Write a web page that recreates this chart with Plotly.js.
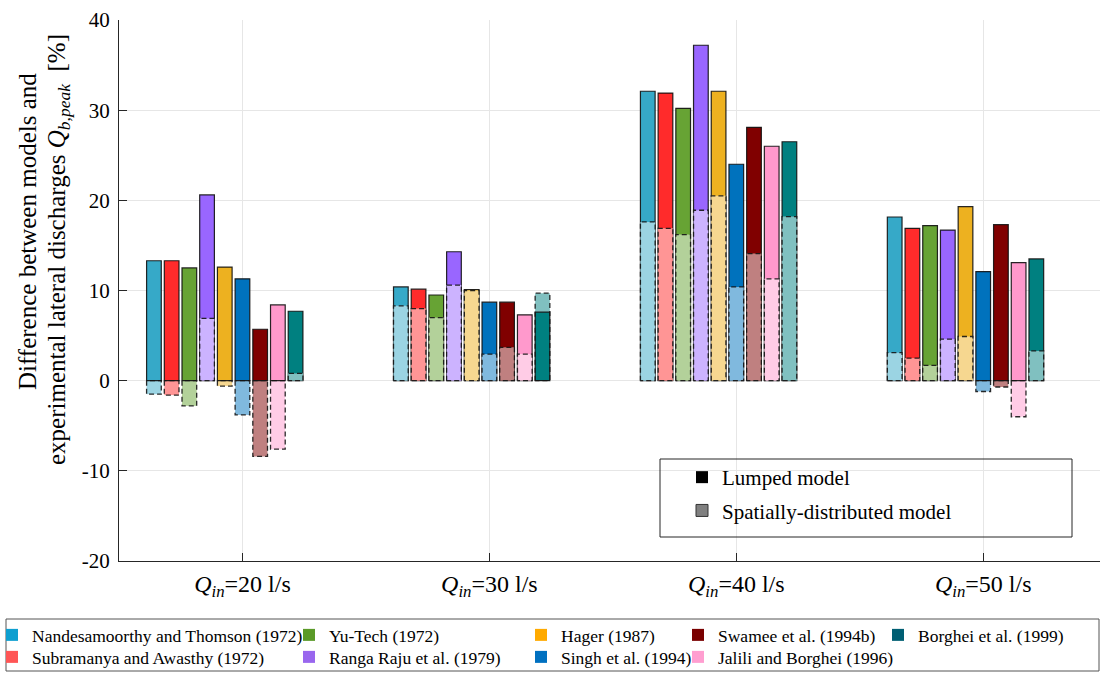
<!DOCTYPE html>
<html><head><meta charset="utf-8">
<script src="https://cdn.plot.ly/plotly-3.0.1.min.js"></script>
<style>html,body{margin:0;padding:0;background:#fff}#chart{width:1100px;height:673px}</style>
</head><body><div id="chart"></div>
<script>
const groupLabels = [
  '<i>Q</i><sub><i>in</i></sub>=20 l/s',
  '<i>Q</i><sub><i>in</i></sub>=30 l/s',
  '<i>Q</i><sub><i>in</i></sub>=40 l/s',
  '<i>Q</i><sub><i>in</i></sub>=50 l/s'
];
const models = [
  'Nandesamoorthy and Thomson (1972)',
  'Subramanya and Awasthy (1972)',
  'Yu-Tech (1972)',
  'Ranga Raju et al. (1979)',
  'Hager (1987)',
  'Singh et al. (1994)',
  'Swamee et al. (1994b)',
  'Jalili and Borghei (1996)',
  'Borghei et al. (1999)'
];
const yTitleLines = ['Difference between models and',
  'experimental lateral discharges <i>Q</i><sub><i>b,peak</i></sub>  [%]'];
// Lumped model values per inflow (one value per model)
const lumped20 = [13.3, 13.3, 12.5, 20.6, 12.6, 11.3, 5.7, 8.4, 7.7];
const lumped30 = [10.4, 10.15, 9.5, 14.3, 10.1, 8.7, 8.7, 7.3, 7.6];
const lumped40 = [32.1, 31.9, 30.2, 37.2, 32.1, 24.0, 28.1, 26.0, 26.5];
const lumped50 = [18.15, 16.9, 17.2, 16.7, 19.3, 12.1, 17.3, 13.1, 13.5];
// Spatially-distributed model values per inflow
const spatial20 = [-1.5, -1.6, -2.8, 6.9, -0.6, -3.8, -8.4, -7.6, 0.8];
const spatial30 = [8.3, 8.0, 7.0, 10.6, 10.0, 2.95, 3.7, 2.95, 9.7];
const spatial40 = [17.6, 16.9, 16.2, 18.9, 20.5, 10.4, 14.1, 11.3, 18.2];
const spatial50 = [3.1, 2.5, 1.7, 4.6, 4.9, -1.2, -0.7, -4.0, 3.3];

const yTickVals = [-20, -10, 0, 10, 20, 30, 40];
const yTickText = ['-20', '-10', '0', '10', '20', '30', '40'];

const lumpedColors = ['#36A9C8', '#FF2B2B', '#67A334', '#9966FF', '#EDB120', '#0072BD', '#800000', '#FF99CC', '#008080'];
const spatialColors = ['#9BD4E3', '#FF9595', '#B3D19A', '#CCB3FF', '#F6D790', '#80B9DE', '#BF8080', '#FFCCE6', '#80C0C0'];
const legendColors = ['#0E9FD0', '#FF5555', '#5A9A28', '#9966EE', '#FFAA00', '#0070C0', '#7A0000', '#FF9ED0', '#005F73'];

const groupPos = [1, 2, 3, 4];
const lumped = [lumped20, lumped30, lumped40, lumped50];
const spatial = [spatial20, spatial30, spatial40, spatial50];
const SLOT = 0.0717, BARW = 0.0595;
function xs(i) { return groupPos.map(g => g + (i - 5) * SLOT); }

const traces = [];
// spatial bars (underneath, all)
models.forEach((m, i) => {
  traces.push({type: 'bar', x: xs(i), y: spatial.map(s => s[i]), width: BARW,
    marker: {color: spatialColors[i], line: {width: 0}}, showlegend: false, hoverinfo: 'skip'});
});
// lumped bars
models.forEach((m, i) => {
  traces.push({type: 'bar', x: xs(i), y: lumped.map(l => l[i]), width: BARW, name: m,
    marker: {color: lumpedColors[i], line: {color: 'rgba(15,15,15,0.9)', width: 1.2}}, showlegend: false});
});
// spatial bars again, on top where they are the smaller bar
models.forEach((m, i) => {
  const y = spatial.map((s, g) => {
    const sv = s[i], lv = lumped[g][i];
    return (sv * lv > 0 && Math.abs(sv) <= Math.abs(lv)) ? sv : null;
  });
  traces.push({type: 'bar', x: xs(i), y: y, width: BARW,
    marker: {color: spatialColors[i], line: {width: 0}}, showlegend: false, hoverinfo: 'skip'});
});
// dashed outlines of spatial bars
models.forEach((m, i) => {
  const X = [], Y = [];
  xs(i).forEach((xc, g) => {
    const v = spatial[g][i];
    const a = xc - BARW / 2, b = xc + BARW / 2;
    X.push(a, a, b, b, a, null);
    Y.push(0, v, v, 0, 0, null);
  });
  traces.push({type: 'scatter', mode: 'lines', x: X, y: Y,
    line: {color: 'rgba(20,20,20,0.9)', width: 1.3, dash: '5px,3px'}, showlegend: false, hoverinfo: 'skip'});
});
// model-type legend entries
traces.push({type: 'bar', x: [null], y: [null], name: 'Lumped model', legend: 'legend', legendgroup: 'a',
  marker: {color: '#000000', line: {width: 0}}});
traces.push({type: 'bar', x: [null], y: [null], name: 'Spatially-distributed model', legend: 'legend', legendgroup: 'b',
  marker: {color: '#808080', line: {color: '#333', width: 1}}});
// models legend entries (each one its own legend, arranged in columns)
models.forEach((m, i) => {
  traces.push({type: 'bar', x: [null], y: [null], name: m, legend: 'legend' + (2 + i),
    marker: {color: legendColors[i], line: {width: 0}}});
});

const PL = 119, PW = 981, PT = 20, PH = 541;
const px = v => (v - PL) / PW;
const py = v => (PT + PH - v) / PH;
const colLefts = [-8, 289, 521, 678, 878];
const rowCenters = [635, 657];

const layout = {
  width: 1100, height: 673,
  margin: {l: PL, r: 0, t: PT, b: 673 - PT - PH, autoexpand: false},
  barmode: 'overlay',
  paper_bgcolor: '#ffffff', plot_bgcolor: '#ffffff',
  font: {family: 'Liberation Serif, Times New Roman, serif', color: '#000', size: 20},
  xaxis: {range: [0.5, 4.473], tickvals: groupPos, ticktext: groupLabels, showgrid: true, gridcolor: '#e6e6e6',
    showline: true, linecolor: '#262626', linewidth: 1, ticks: 'inside', ticklen: 8, tickcolor: '#262626',
    zeroline: false, tickfont: {size: 24}, ticklabelstandoff: 1},
  yaxis: {range: [-20, 40], tickvals: yTickVals, ticktext: yTickText, showgrid: true, gridcolor: '#e6e6e6',
    showline: true, linecolor: '#262626', linewidth: 1, ticks: 'inside', ticklen: 8, tickcolor: '#262626',
    zeroline: false, tickfont: {size: 21}, ticklabelstandoff: 4},
  legend: {x: px(682), y: py(457), xanchor: 'left', yanchor: 'top', bgcolor: 'rgba(0,0,0,0)', borderwidth: 0,
    font: {size: 21, family: 'Liberation Serif, serif', color: '#000'}, traceorder: 'grouped', tracegroupgap: 3},
  annotations: [
    {text: yTitleLines[0], xref: 'paper', yref: 'paper', x: px(28), y: py(232), xanchor: 'center', yanchor: 'middle',
      textangle: -90, showarrow: false, font: {size: 25, color: '#000'}},
    {text: yTitleLines[1], xref: 'paper', yref: 'paper', x: px(58), y: py(250), xanchor: 'center', yanchor: 'middle',
      textangle: -90, showarrow: false, font: {size: 25, color: '#000'}}
  ],
  shapes: [
    {type: 'rect', xref: 'paper', yref: 'paper', x0: px(660), x1: px(1072), y0: py(459), y1: py(537),
      line: {color: '#262626', width: 1}, fillcolor: 'rgba(0,0,0,0)', layer: 'above'},
    {type: 'rect', xref: 'paper', yref: 'paper', x0: px(6), x1: px(1099), y0: py(619), y1: py(671),
      line: {color: '#555', width: 1}, fillcolor: 'rgba(0,0,0,0)', layer: 'above'}
  ]
};
models.forEach((m, i) => {
  layout['legend' + (2 + i)] = {
    x: px(colLefts[Math.floor(i / 2)]), y: py(rowCenters[i % 2]), xanchor: 'left', yanchor: 'middle',
    bgcolor: 'rgba(0,0,0,0)', borderwidth: 0, font: {size: 17.5, family: 'Liberation Serif, serif', color: '#000'}
  };
});
Plotly.newPlot('chart', traces, layout, {displayModeBar: false, staticPlot: true});
</script>
</body></html>
